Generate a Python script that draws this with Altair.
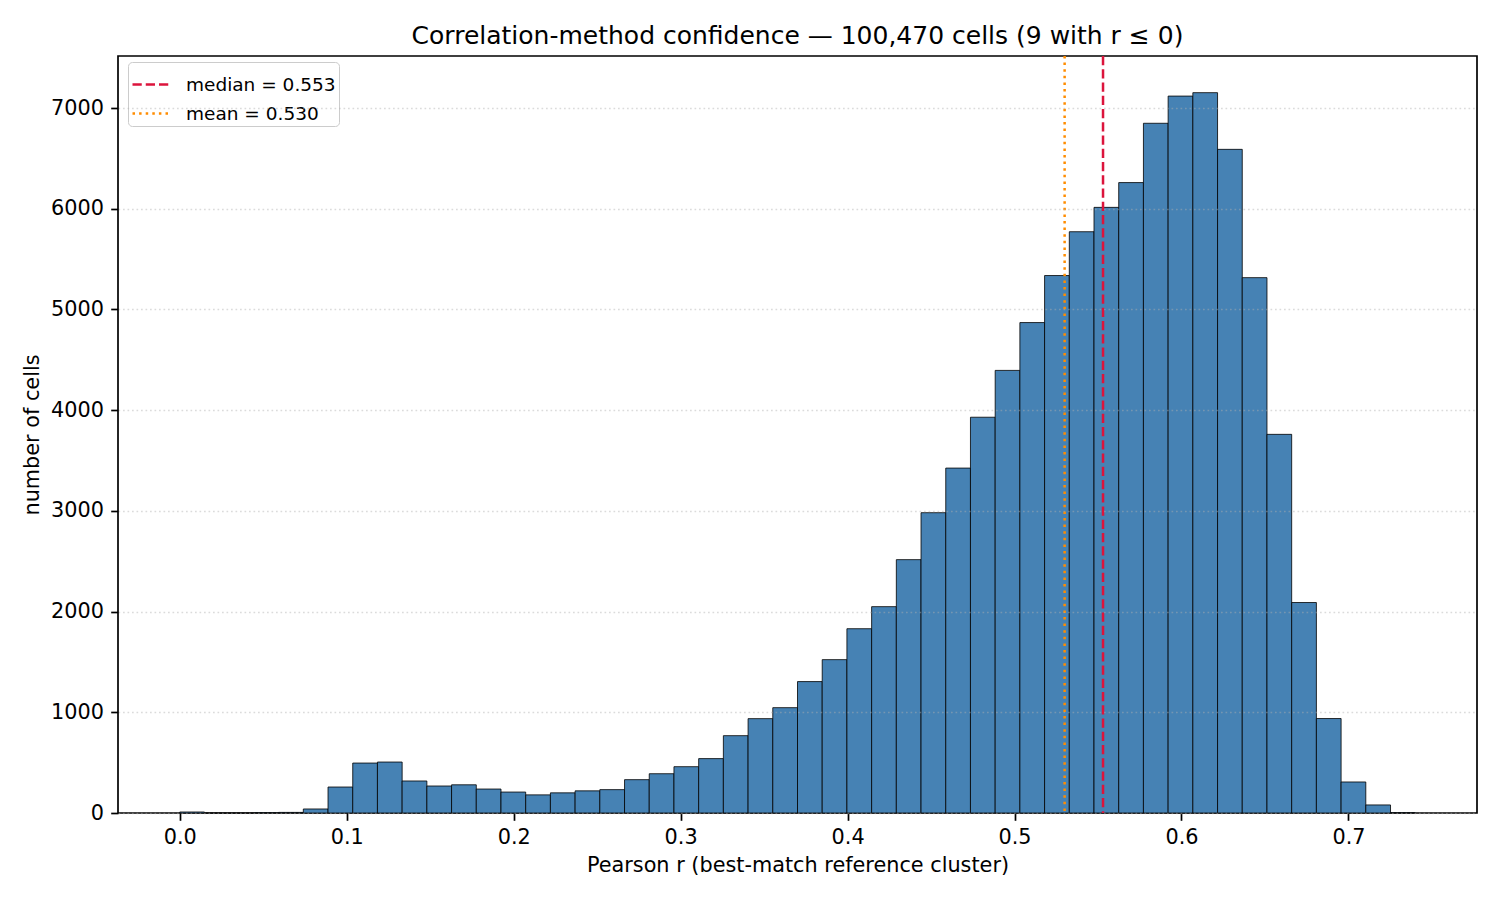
import numpy as np
import pandas as pd
import altair as alt

# histogram counts, 50 bins over [0, 0.74]
bin_lo = 0.0
bin_hi = 0.74
counts = [
    10, 0, 0, 4, 6, 40, 258, 496, 506, 318,
    268, 280, 238, 208, 180, 200, 220, 232, 331, 390,
    460, 540, 768, 937, 1046, 1305, 1523, 1830, 2049, 2516,
    2982, 3425, 3930, 4395, 4870, 5337, 5772, 6014, 6260, 6849,
    7119, 7153, 6590, 5316, 3760, 2090, 938, 308, 80, 4,
]

stat_labels = ["median = 0.553", "mean = 0.530"]
stat_values = [0.553, 0.530]
stat_colors = ["#DC143C", "#FF8C00"]

x_ticks = [0.0, 0.1, 0.2, 0.3, 0.4, 0.5, 0.6, 0.7]
y_ticks = [0, 1000, 2000, 3000, 4000, 5000, 6000, 7000]

edges = np.linspace(bin_lo, bin_hi, len(counts) + 1)
hist = pd.DataFrame({"lo": edges[:-1], "hi": edges[1:], "n": counts})
stats = pd.DataFrame({"label": stat_labels, "r": stat_values})

font = "DejaVu Sans"
x_scale = alt.Scale(domain=[-0.037, 0.777], nice=False, zero=False)
y_scale = alt.Scale(domain=[0, 7517], nice=False)

bars = (
    alt.Chart(hist)
    .mark_bar(fill="#4682B4", stroke="black", strokeWidth=1, strokeOpacity=0.8)
    .encode(
        x=alt.X(
            "lo:Q",
            scale=x_scale,
            axis=alt.Axis(
                title="Pearson r (best-match reference cluster)",
                values=x_ticks,
                format=".1f",
                grid=False,
            ),
        ),
        x2="hi:Q",
        y=alt.Y(
            "n:Q",
            scale=y_scale,
            axis=alt.Axis(
                title="number of cells",
                values=y_ticks,
                format="d",
                grid=True,
                gridColor="#b0b0b0",
                gridOpacity=0.45,
                gridDash=[1.7, 2.8],
                gridWidth=1.6,
                zindex=1,
            ),
        ),
        y2=alt.datum(0),
    )
)

lines = (
    alt.Chart(stats)
    .mark_rule(strokeWidth=2.5)
    .encode(
        x=alt.X("r:Q", scale=x_scale),
        color=alt.Color(
            "label:N",
            scale=alt.Scale(domain=stat_labels, range=stat_colors),
            legend=alt.Legend(
                title=None,
                orient="none",
                legendX=10,
                legendY=6,
                symbolType="stroke",
                symbolSize=1296,
                symbolStrokeWidth=2.5,
                labelFontSize=18.5,
                labelFont=font,
                labelColor="black",
                labelOffset=16,
                rowPadding=-1,
                padding=3,
                fillColor="white",
                strokeColor="#cccccc",
                cornerRadius=4,
            ),
        ),
        strokeDash=alt.StrokeDash(
            "label:N",
            scale=alt.Scale(domain=stat_labels, range=[[9.25, 4], [2.5, 4.1]]),
            legend=alt.Legend(title=None),
        ),
    )
)

chart = (
    alt.layer(bars, lines)
    .properties(
        width=1359,
        height=757,
        autosize=alt.AutoSizeParams(type="none"),
        padding={"left": 110, "top": 48, "right": 15, "bottom": 70},
        title=alt.TitleParams(
            "Correlation-method confidence — 100,470 cells (9 with r ≤ 0)",
            font=font,
            fontSize=25,
            fontWeight="normal",
            color="black",
            anchor="middle",
            frame="group",
            baseline="alphabetic",
            offset=-14,
        ),
    )
    .configure_view(stroke="black", strokeWidth=1.7)
    .configure_axis(
        domain=False,
        labelFont=font,
        labelFontSize=20.8,
        labelColor="black",
        titleFont=font,
        titleFontSize=20.8,
        titleFontWeight="normal",
        titleColor="black",
        tickColor="black",
        tickSize=7.3,
        tickWidth=1.7,
        labelPadding=7.3,
        titlePadding=8.3,
    )
)

chart.save("out.html", embed_options={"renderer": "svg", "actions": False})
